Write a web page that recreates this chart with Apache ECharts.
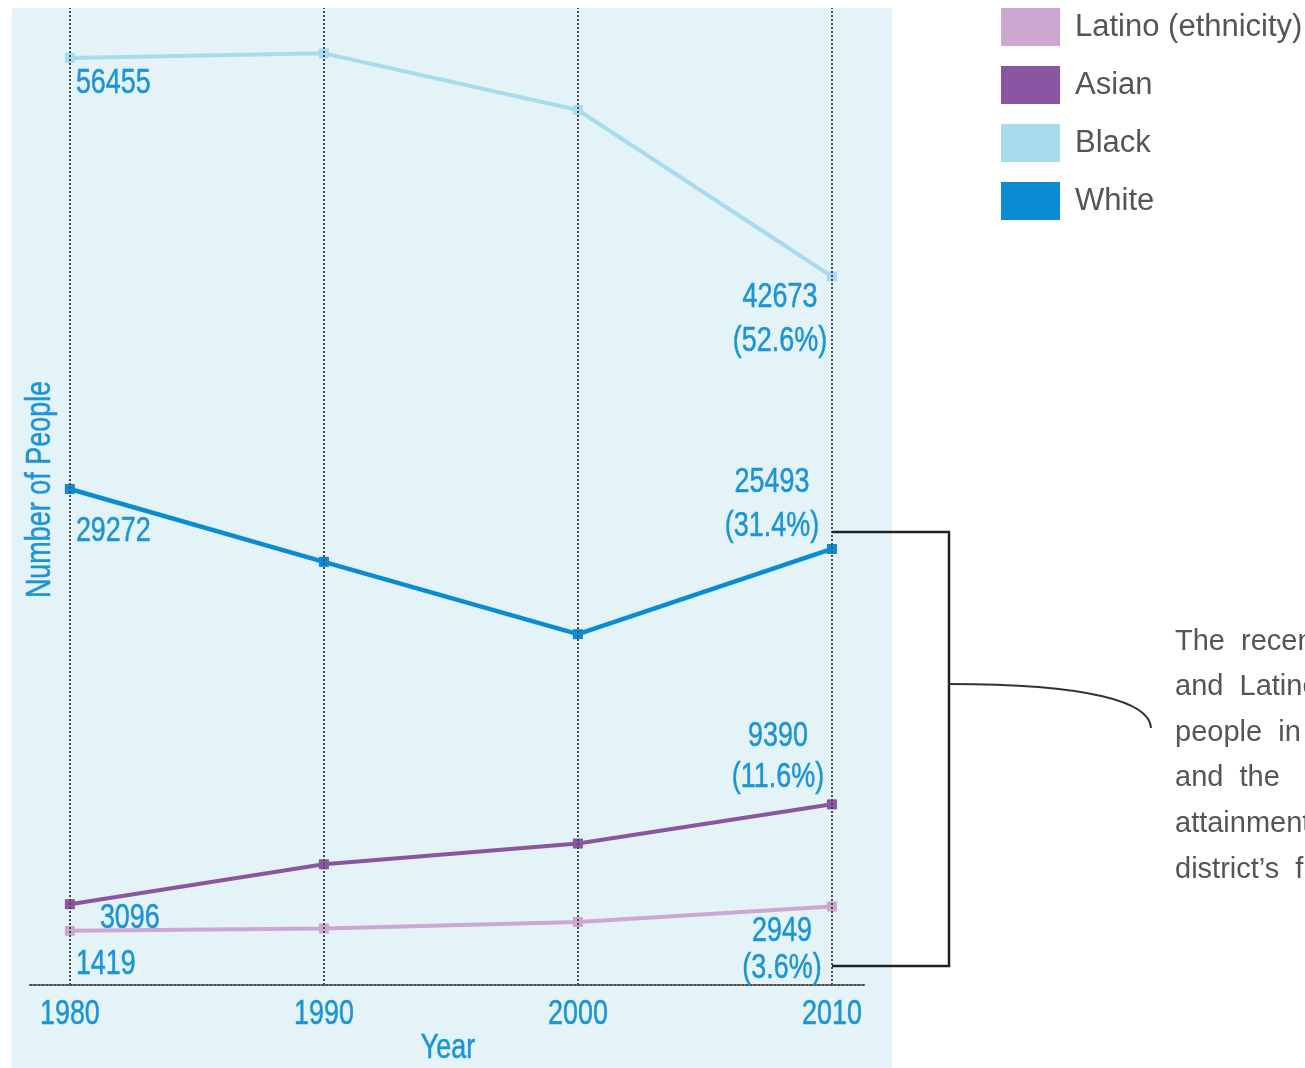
<!DOCTYPE html>
<html>
<head>
<meta charset="utf-8">
<title>Population by race, 1980–2010</title>
<script src="https://cdn.jsdelivr.net/npm/echarts@6/dist/echarts.min.js"></script>
<style>
  html, body { margin: 0; padding: 0; background: #ffffff; }
  #chart { width: 1305px; height: 1068px; }
</style>
</head>
<body>
<div id="chart"></div>
<script>
// Census years on the horizontal axis
const years = [1980, 1990, 2000, 2010];

// Number of people per group and census year
const latino = [1419, 1560, 1970, 2949];
const asian  = [3096, 5610, 6920, 9390];
const black  = [56455, 56740, 53170, 42673];
const white  = [29272, 24680, 20120, 25493];

// Share of the 2010 population (percent)
const share2010 = { latino: 3.6, asian: 11.6, black: 52.6, white: 31.4 };

// Chart numbers and axis titles use a narrow face; legend and note use the regular width.
const NARROW_FONT = '"Liberation Sans", sans-serif';
const PLAIN_FONT = 'Arial, "Liberation Sans", sans-serif';
const NARROW_SCALE = 0.77;
const LABEL_BLUE = '#1b94d6';

// Draw text set in NARROW_FONT horizontally condensed around its anchor point,
// so left / center / right alignment is kept.
(function () {
  const proto = CanvasRenderingContext2D.prototype;
  const origFill = proto.fillText;
  const origStroke = proto.strokeText;
  function isNarrow(ctx) {
    const f = ctx.font;
    return f.indexOf('Liberation Sans') !== -1 && f.indexOf('Arial') === -1;
  }
  proto.fillText = function (text, x, y, maxWidth) {
    if (!isNarrow(this)) return origFill.apply(this, arguments);
    this.save();
    this.translate(x, y);
    this.scale(NARROW_SCALE, 1);
    if (maxWidth !== undefined) origFill.call(this, text, 0, 0, maxWidth / NARROW_SCALE);
    else origFill.call(this, text, 0, 0);
    this.restore();
  };
  proto.strokeText = function (text, x, y, maxWidth) {
    if (!isNarrow(this)) return origStroke.apply(this, arguments);
    this.save();
    this.translate(x, y);
    this.scale(NARROW_SCALE, 1);
    if (maxWidth !== undefined) origStroke.call(this, text, 0, 0, maxWidth / NARROW_SCALE);
    else origStroke.call(this, text, 0, 0);
    this.restore();
  };
})();

// Placement of the value labels at the first and last year
const labelLayout = {
  black:  { first: [11, 30], last: [-47, 48],     lastLH: 44 },
  white:  { first: [11, 47], last: [-55, -39.5],  lastLH: 44 },
  asian:  { first: [35, 19], last: [-49, -42.5],  lastLH: 41 },
  latino: { first: [11, 39], last: [-45, 48],     lastLH: 37 }
};

function buildData(key, values) {
  const lay = labelLayout[key];
  return values.map((v, i) => {
    const item = { value: [years[i], v] };
    if (i === 0) {
      item.label = {
        show: true, position: lay.first, align: 'left', verticalAlign: 'middle',
        formatter: String(v)
      };
    } else if (i === values.length - 1) {
      item.label = {
        show: true, position: lay.last, align: 'center', verticalAlign: 'middle',
        lineHeight: lay.lastLH,
        formatter: v + '\n(' + share2010[key].toFixed(1) + '%)'
      };
    }
    return item;
  });
}

const labelText = {
  color: LABEL_BLUE, fontFamily: NARROW_FONT, fontSize: 35,
  textBorderColor: LABEL_BLUE, textBorderWidth: 0.5
};

function lineSeries(name, key, values, color, width) {
  return {
    name: name,
    type: 'line',
    data: buildData(key, values),
    symbol: 'rect',
    symbolSize: 10,
    lineStyle: { color: color, width: width },
    itemStyle: { color: color },
    label: Object.assign({}, labelText),
    emphasis: { disabled: true },
    animation: false
  };
}

const chart = echarts.init(document.getElementById('chart'), null, { renderer: 'canvas' });

const series = [
  lineSeries('Latino (ethnicity)', 'latino', latino, '#cda7d2', 4),
  lineSeries('Asian', 'asian', asian, '#8b55a1', 4),
  lineSeries('Black', 'black', black, '#a6dced', 4),
  lineSeries('White', 'white', white, '#0b8bd2', 4.5)
];

// Dotted vertical guides at each census year
series[0].markLine = {
  silent: true,
  symbol: 'none',
  label: { show: false },
  lineStyle: { color: '#4a4a4a', type: [2, 2], width: 2 },
  data: years.map(y => ({ xAxis: y })),
  animation: false
};
series[0].z = 3;

chart.setOption({
  animation: false,
  grid: { left: 30, right: 439, top: 8, bottom: 83, containLabel: false, outerBoundsMode: 'none' },
  legend: {
    data: ['Latino (ethnicity)', 'Asian', 'Black', 'White'],
    orient: 'vertical',
    left: 1001,
    top: 8,
    padding: 0,
    itemWidth: 59,
    itemHeight: 38,
    itemGap: 20,
    icon: 'rect',
    selectedMode: false,
    itemStyle: { borderWidth: 0 },
    textStyle: { color: '#555555', fontFamily: PLAIN_FONT, fontSize: 31, padding: [0, 0, 0, 10] }
  },
  xAxis: {
    type: 'value',
    min: 1978.43,
    max: 2011.34,
    name: 'Year',
    nameLocation: 'middle',
    nameGap: 46,
    nameMoveOverlap: false,
    nameTextStyle: Object.assign({}, labelText),
    axisLine: { show: true, onZero: false, lineStyle: { color: '#4a4a4a', type: [2, 2], width: 2 } },
    axisTick: { show: false },
    splitLine: { show: false },
    axisLabel: Object.assign({
      customValues: years,
      margin: 12,
      formatter: v => String(v)
    }, labelText)
  },
  yAxis: {
    type: 'value',
    min: -2000,
    max: 59600,
    name: 'Number of People',
    nameLocation: 'middle',
    nameRotate: 90,
    nameGap: -28,
    nameMoveOverlap: false,
    nameTextStyle: Object.assign({ padding: [0, 0, 0, 14] }, labelText),
    axisLine: { show: false },
    axisTick: { show: false },
    axisLabel: { show: false },
    splitLine: { show: false }
  },
  graphic: [
    {
      type: 'rect', z: -100, silent: true,
      shape: { x: 12, y: 8, width: 880, height: 1060 },
      style: { fill: '#e4f3f8' }
    },
    {
      type: 'polyline', z: 100, silent: true,
      shape: { points: [[832, 532], [949, 532], [949, 966], [832, 966]] },
      style: { stroke: '#222222', lineWidth: 2.5, fill: null }
    },
    {
      type: 'bezierCurve', z: 100, silent: true,
      shape: { x1: 949, y1: 684, x2: 1151, y2: 728, cpx1: 1090, cpy1: 684, cpx2: 1150, cpy2: 702 },
      style: { stroke: '#333333', lineWidth: 2, fill: null }
    },
    {
      type: 'group', z: 100, silent: true, left: 1175, top: 627,
      children: [
        'The  recent',
        'and  Latino',
        'people  in',
        'and  the',
        'attainment',
        'district\u2019s  f'
      ].map((t, i) => ({
        type: 'text',
        x: 0, y: i * 45.6,
        style: { text: t, fill: '#555555', font: '29px ' + PLAIN_FONT }
      }))
    }
  ],
  series: series
});
</script>
</body>
</html>
